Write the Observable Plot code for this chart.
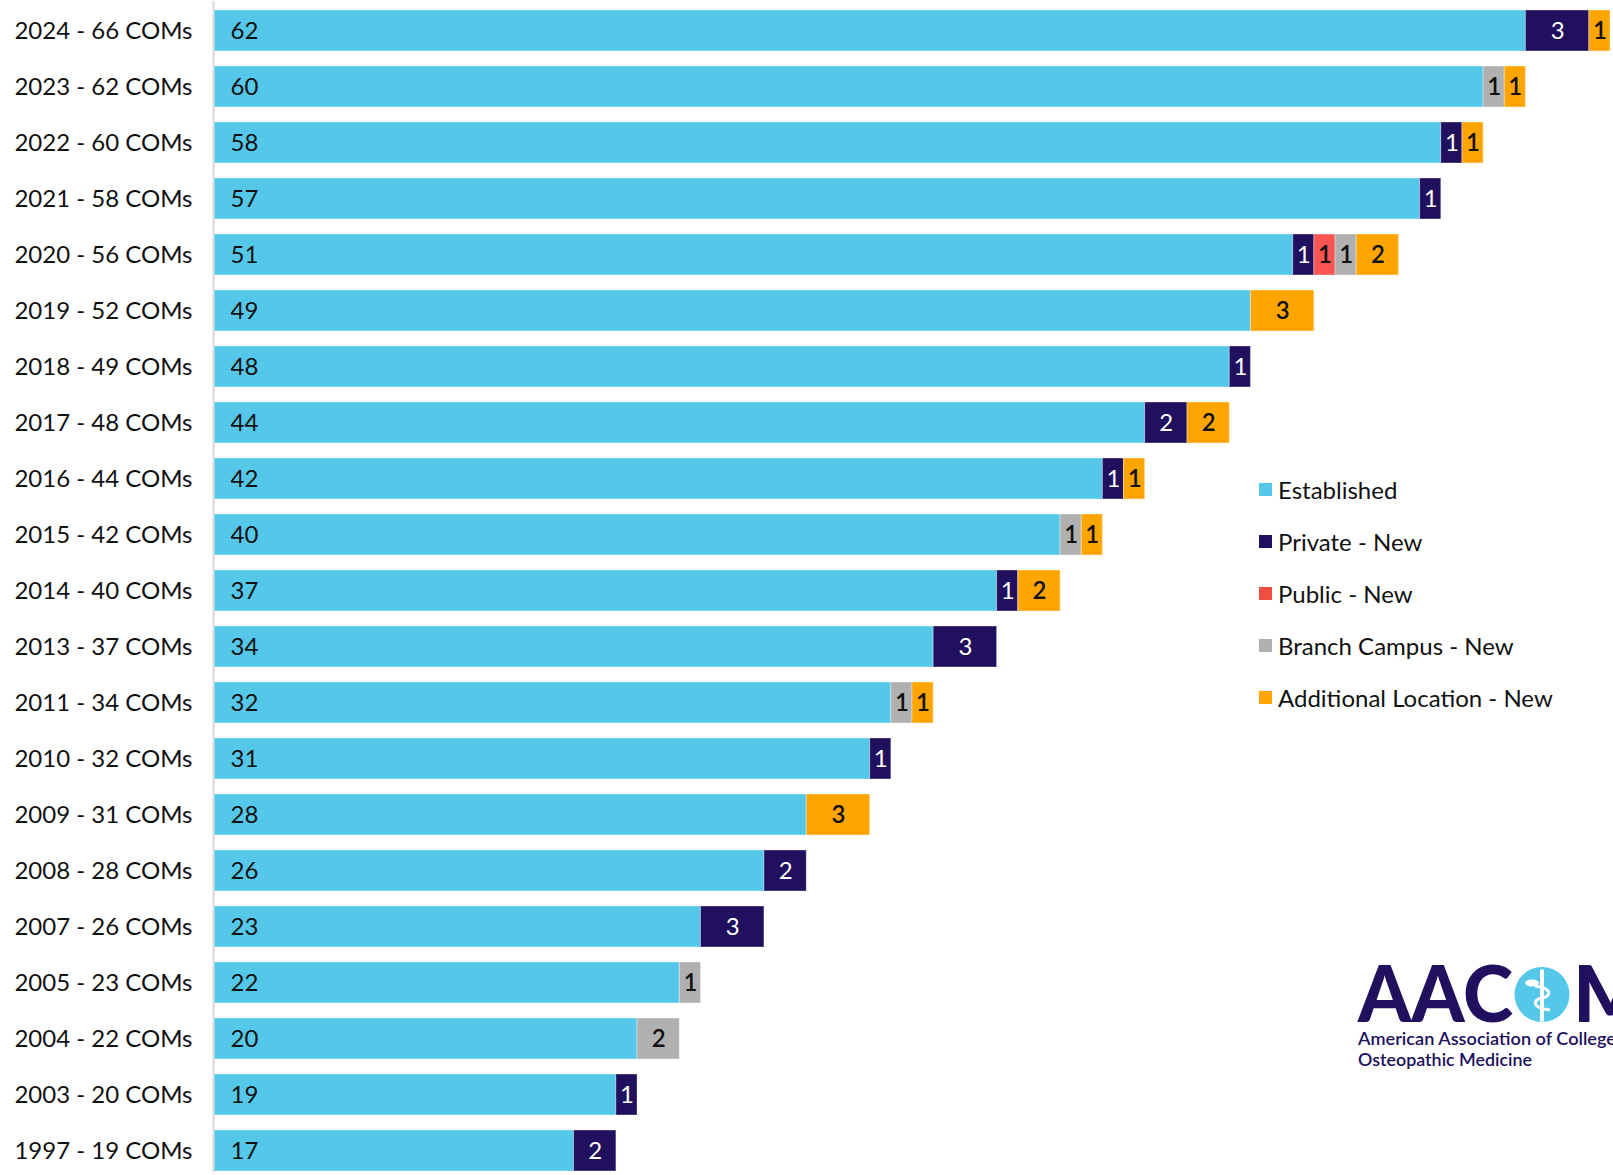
<!DOCTYPE html>
<html>
<head>
<meta charset="utf-8">
<script src="https://cdn.jsdelivr.net/npm/d3@7"></script>
<script src="https://cdn.jsdelivr.net/npm/@observablehq/plot@0.6"></script>
<style>
  html, body { margin: 0; padding: 0; background: #fff; overflow: hidden; }
  body { width: 1613px; height: 1175px; position: relative; font-family: Lato, "Noto Sans", sans-serif; }
  #chart { position: absolute; left: 0; top: 0; }
  #legend { position: absolute; left: 1259px; top: 463px; color: #111; font-size: 24px; }
  #legend .item { display: flex; align-items: center; height: 52px; }
  #legend .sw { width: 13px; height: 13px; margin-right: 6px; }
  #logo { position: absolute; left: 1340px; top: 950px; }
</style>
</head>
<body>
<div id="chart"></div>
<div id="legend"></div>
<svg id="logo" width="273" height="130" viewBox="0 0 273 130">
  <text x="18" y="72" font-family="Lato" font-weight="900" font-size="79" fill="#20105E" textLength="155" lengthAdjust="spacingAndGlyphs">AAC</text>
  <circle cx="202" cy="44.5" r="27.5" fill="#55C8EA"></circle>
  <path d="M202 21 L202 70" stroke="#fff" stroke-width="4" stroke-linecap="round" fill="none"></path>
  <path d="M195 36 C 212 38, 212 46, 202 48 C 192 50, 192 58, 210 60" stroke="#fff" stroke-width="3" fill="none"></path>
  <ellipse cx="192" cy="33" rx="7" ry="3.5" fill="#fff"></ellipse>
  <text x="233" y="72" font-family="Lato" font-weight="900" font-size="79" fill="#20105E">M</text>
  <text x="18" y="95" font-family="Lato" font-weight="600" font-size="18" fill="#20105E" textLength="287" lengthAdjust="spacingAndGlyphs">American Association of Colleges of</text>
  <text x="18" y="116" font-family="Lato" font-weight="600" font-size="18" fill="#20105E" textLength="174" lengthAdjust="spacingAndGlyphs">Osteopathic Medicine</text>
</svg>
<script>
// ---- data ----
const labels = [
  "2024 - 66 COMs", "2023 - 62 COMs", "2022 - 60 COMs", "2021 - 58 COMs",
  "2020 - 56 COMs", "2019 - 52 COMs", "2018 - 49 COMs", "2017 - 48 COMs",
  "2016 - 44 COMs", "2015 - 42 COMs", "2014 - 40 COMs", "2013 - 37 COMs",
  "2011 - 34 COMs", "2010 - 32 COMs", "2009 - 31 COMs", "2008 - 28 COMs",
  "2007 - 26 COMs", "2005 - 23 COMs", "2004 - 22 COMs", "2003 - 20 COMs",
  "1997 - 19 COMs"
];
const established   = [62, 60, 58, 57, 51, 49, 48, 44, 42, 40, 37, 34, 32, 31, 28, 26, 23, 22, 20, 19, 17];
const privateNew    = [ 3,  0,  1,  1,  1,  0,  1,  2,  1,  0,  1,  3,  0,  1,  0,  2,  3,  0,  0,  1,  2];
const publicNew     = [ 0,  0,  0,  0,  1,  0,  0,  0,  0,  0,  0,  0,  0,  0,  0,  0,  0,  0,  0,  0,  0];
const branchNew     = [ 0,  1,  0,  0,  1,  0,  0,  0,  0,  1,  0,  0,  1,  0,  0,  0,  0,  1,  2,  0,  0];
const additionalNew = [ 1,  1,  1,  0,  2,  3,  0,  2,  1,  1,  2,  0,  1,  0,  3,  0,  0,  0,  0,  0,  0];

const seriesNames  = ["Established", "Private - New", "Public - New", "Branch Campus - New", "Additional Location - New"];
const seriesColors = ["#55C8EA", "#20105E", "#FA5552", "#B0B0B0", "#FFA500"];
const legendColors = ["#55C8EA", "#20105E", "#F04E3E", "#B0B0B0", "#FFA500"];
const seriesValues = [established, privateNew, publicNew, branchNew, additionalNew];

// long table
const data = [];
labels.forEach((label, i) => {
  seriesNames.forEach((s, j) => {
    const v = seriesValues[j][i];
    if (v > 0) data.push({label, series: s, value: v});
  });
});

const stackOpts = {x: "value", y: "label", z: "series", order: seriesNames};

const plot = Plot.plot({
  width: 1613,
  height: 1175,
  marginLeft: 214,
  marginRight: 3,
  marginTop: 9,
  marginBottom: 3,
  style: {fontFamily: "Lato, 'Noto Sans', sans-serif", fontSize: "24px", color: "#111", background: "transparent"},
  x: {domain: [0, 66], axis: null},
  y: {domain: labels, paddingInner: 0.264, paddingOuter: 0, label: null},
  color: {domain: seriesNames, range: seriesColors},
  marks: [
    Plot.barX(data, Plot.stackX({...stackOpts, fill: "series", stroke: "#fff", strokeOpacity: 0.35, strokeWidth: 1})),
    Plot.ruleX([0], {stroke: "#d9d9d9", strokeWidth: 2, dx: -1, insetTop: -8}),
    Plot.axisY({tickSize: 0, tickPadding: 22, fontSize: 24, fill: "#111"}),
    Plot.text(data, Plot.stackX1({...stackOpts,
      text: d => d.series === "Established" ? d.value : "",
      textAnchor: "start", dx: 16, fontSize: 24, fill: "#111"})),
    Plot.text(data, Plot.stackX({...stackOpts,
      text: d => d.series === "Private - New" ? d.value : "",
      fontSize: 24, fill: "#fff"})),
    Plot.text(data, Plot.stackX({...stackOpts,
      text: d => (d.series !== "Private - New" && d.series !== "Established") ? d.value : "",
      fontSize: 24, fontWeight: 600, fill: "#111"}))
  ]
});
document.getElementById("chart").appendChild(plot);

// legend
const legend = document.getElementById("legend");
seriesNames.forEach((s, i) => {
  const item = document.createElement("div");
  item.className = "item";
  const sw = document.createElement("div");
  sw.className = "sw";
  sw.style.background = legendColors[i];
  const t = document.createElement("span");
  t.textContent = s;
  item.appendChild(sw);
  item.appendChild(t);
  legend.appendChild(item);
});
</script>
</body>
</html>
